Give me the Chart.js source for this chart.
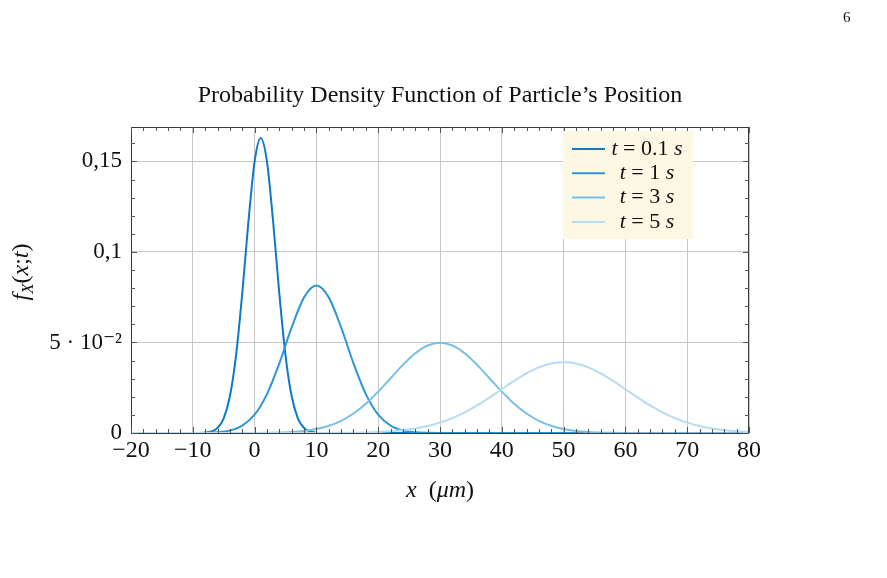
<!DOCTYPE html>
<html>
<head>
<meta charset="utf-8">
<script src="https://cdn.jsdelivr.net/npm/chart.js@4.4.1/dist/chart.umd.min.js"></script>
<style>
  html, body { margin: 0; padding: 0; background: #fff; }
  #wrap { width: 887px; height: 578px; position: relative; }
</style>
</head>
<body>
<div id="wrap"><canvas id="pdfChart"></canvas></div>
<script>
// values (x in µm, density)
const labels = ['t = 0.1 s', 't = 1 s', 't = 3 s', 't = 5 s'];
const times = ['0.1', '1', '3', '5'];
const colors = ['#0b7bc6', '#2d97d6', '#78bfe8', '#b5dcf2'];

const xT01 = [-20, -10, -9, -8, -7, -6, -5, -4, -3, -2, -1, 0, 1, 2, 3, 4, 5, 6, 7, 8, 9, 10, 11, 12, 80];
const yT01 = [0, 0, 0.00004, 0.0002, 0.0008, 0.0028, 0.0081, 0.0203, 0.0429, 0.0770, 0.1167, 0.1499, 0.1629,
              0.1499, 0.1167, 0.0770, 0.0429, 0.0203, 0.0081, 0.0028, 0.0008, 0.0002, 0.00004, 0, 0];

const xT1 = [-20, -10, -8, -6, -4, -2, 0, 2, 4, 6, 8, 10, 12, 14, 16, 18, 20, 22, 24, 26, 28, 30, 80];
const yT1 = [0, 0.00001, 0.0001, 0.0004, 0.0014, 0.0041, 0.0101, 0.0215, 0.0385, 0.0583, 0.0749, 0.0814,
             0.0749, 0.0583, 0.0385, 0.0215, 0.0101, 0.0041, 0.0014, 0.0004, 0.0001, 0.00001, 0];

const xT3 = [-20, 0, 2, 4, 6, 8, 10, 12, 14, 16, 18, 20, 22, 24, 26, 28, 30, 32, 34, 36, 38, 40, 42, 44,
             46, 48, 50, 52, 54, 56, 58, 60, 80];
const yT3 = [0, 0.00002, 0.0001, 0.00025, 0.00055, 0.00114, 0.00219, 0.00397, 0.00675, 0.01079, 0.01619,
             0.02283, 0.03025, 0.03764, 0.04401, 0.04833, 0.0499, 0.04833, 0.04401, 0.03764, 0.03025, 0.02283,
             0.01619, 0.01079, 0.00675, 0.00397, 0.00219, 0.00114, 0.00055, 0.00025, 0.0001, 0.00002, 0];

const xT5 = [-20, 10, 14, 16, 18, 20, 22, 24, 26, 28, 30, 32, 34, 36, 38, 40, 42, 44, 46, 48, 50, 52, 54,
             56, 58, 60, 62, 64, 66, 68, 70, 72, 74, 76, 78, 80];
const yT5 = [0, 0.00002, 0.00008, 0.00015, 0.00028, 0.00052, 0.0009, 0.00152, 0.00245, 0.00382, 0.00572,
             0.00824, 0.01142, 0.01524, 0.01957, 0.02418, 0.02875, 0.03289, 0.03621, 0.03836, 0.0391, 0.03836,
             0.03621, 0.03289, 0.02875, 0.02418, 0.01957, 0.01524, 0.01142, 0.00824, 0.00572, 0.00382,
             0.00245, 0.00152, 0.0009, 0.00052];

const xTicks = [-20, -10, 0, 10, 20, 30, 40, 50, 60, 70, 80];
const yTicks = [0, 0.05, 0.1, 0.15];
const yTickLabels = ['0', '5 · 10⁻²', '0,1', '0,15'];

const seriesX = [xT01, xT1, xT3, xT5];
const seriesY = [yT01, yT1, yT3, yT5];

const serif = '"Liberation Serif", "DejaVu Serif", serif';

// draws a row of text pieces: [text, italic, sizeScale, yShift]
function drawMath(ctx, parts, x, y, size, align) {
    const fontOf = p => (p[1] ? 'italic ' : '') + Math.round(size * (p[2] || 1)) + 'px ' + serif;
    let total = 0;
    parts.forEach(p => { ctx.font = fontOf(p); total += ctx.measureText(p[0]).width; });
    let cx = align === 'center' ? x - total / 2 : x;
    parts.forEach(p => {
        ctx.font = fontOf(p);
        ctx.fillText(p[0], cx, y + (p[3] || 0));
        cx += ctx.measureText(p[0]).width;
    });
}

const decorPlugin = {
    id: 'decor',
    afterDatasetsDraw(chart) {
        const ctx = chart.ctx;
        const a = chart.chartArea;
        const xs = chart.scales.x, ys = chart.scales.y;
        ctx.save();

        // frame
        ctx.strokeStyle = '#3a3a3a';
        ctx.lineWidth = 1;
        ctx.strokeRect(a.left + 0.5, a.top + 0.5, a.right - a.left - 1, a.bottom - a.top);

        // inward ticks on all sides
        ctx.strokeStyle = '#555';
        ctx.beginPath();
        for (let v = -20; v <= 80; v += 2) {
            const px = Math.round(xs.getPixelForValue(v)) + 0.5;
            const len = v % 10 === 0 ? 6 : 4;
            ctx.moveTo(px, a.bottom); ctx.lineTo(px, a.bottom - len);
            ctx.moveTo(px, a.top); ctx.lineTo(px, a.top + len);
        }
        for (let i = 0; i <= 16; i++) {
            const py = Math.round(ys.getPixelForValue(i / 100)) + 0.5;
            const len = i % 5 === 0 ? 6 : 4;
            ctx.moveTo(a.left, py); ctx.lineTo(a.left + len, py);
            ctx.moveTo(a.right, py); ctx.lineTo(a.right - len, py);
        }
        ctx.stroke();

        // legend
        ctx.fillStyle = '#fdf8e4';
        ctx.fillRect(563, 131, 130, 108);
        ctx.textBaseline = 'middle';
        chart.data.datasets.forEach((ds, i) => {
            const y = 149 + i * 24.3;
            ctx.strokeStyle = ds.borderColor;
            ctx.lineWidth = 2;
            ctx.beginPath();
            ctx.moveTo(572, y); ctx.lineTo(605, y);
            ctx.stroke();
            ctx.fillStyle = '#111';
            drawMath(ctx, [['t', true], [' = ' + times[i] + ' ', false], ['s', true]], 647, y, 22, 'center');
        });

        // title, axis titles, page number
        ctx.fillStyle = '#111';
        ctx.textBaseline = 'alphabetic';
        ctx.textAlign = 'left';
        ctx.font = '24px ' + serif;
        const title = 'Probability Density Function of Particle’s Position';
        ctx.fillText(title, 440 - ctx.measureText(title).width / 2, 102);

        drawMath(ctx, [['x', true], ['  (', false], ['μm', true], [')', false]], 440, 497, 24, 'center');

        ctx.save();
        ctx.translate(28, 272);
        ctx.rotate(-Math.PI / 2);
        drawMath(ctx, [['f', true], ['X', true, 0.7, 5], ['(', false], ['x', true], [';', false], ['t', true], [')', false]],
                 0, 0, 24, 'center');
        ctx.restore();

        ctx.font = '15px ' + serif;
        ctx.fillText('6', 843, 22);
        ctx.restore();
    }
};

const datasets = labels.map((lab, i) => ({
    label: lab,
    data: seriesX[i].map((x, j) => ({ x: x, y: seriesY[i][j] })),
    borderColor: colors[i],
    borderWidth: 2,
    pointRadius: 0,
    fill: false,
    cubicInterpolationMode: 'monotone',
    order: 4 - i
}));

new Chart(document.getElementById('pdfChart'), {
    type: 'line',
    data: { datasets: datasets },
    options: {
        responsive: true,
        maintainAspectRatio: false,
        animation: false,
        layout: { padding: { top: 127, right: 138, bottom: 103, left: 0 } },
        plugins: { legend: { display: false }, tooltip: { enabled: false }, title: { display: false } },
        scales: {
            x: {
                type: 'linear',
                min: -20, max: 80,
                afterBuildTicks: s => { s.ticks = xTicks.map(v => ({ value: v })); },
                afterFit: s => { s.height = 42; },
                grid: { color: '#c8c8c8', lineWidth: 1, drawTicks: false },
                border: { display: false },
                ticks: {
                    padding: 3,
                    color: '#111',
                    font: { family: serif, size: 24 },
                    callback: v => (v < 0 ? '−' + Math.abs(v) : String(v))
                }
            },
            y: {
                type: 'linear',
                min: 0, max: 0.169,
                afterBuildTicks: s => { s.ticks = yTicks.map(v => ({ value: v })); },
                afterFit: s => { s.width = 131; },
                grid: { color: '#c8c8c8', lineWidth: 1, drawTicks: false },
                border: { display: false },
                ticks: {
                    padding: 9,
                    color: '#111',
                    font: { family: serif, size: 23 },
                    callback: (v, idx) => yTickLabels[idx]
                }
            }
        }
    },
    plugins: [decorPlugin]
});
</script>
</body>
</html>
